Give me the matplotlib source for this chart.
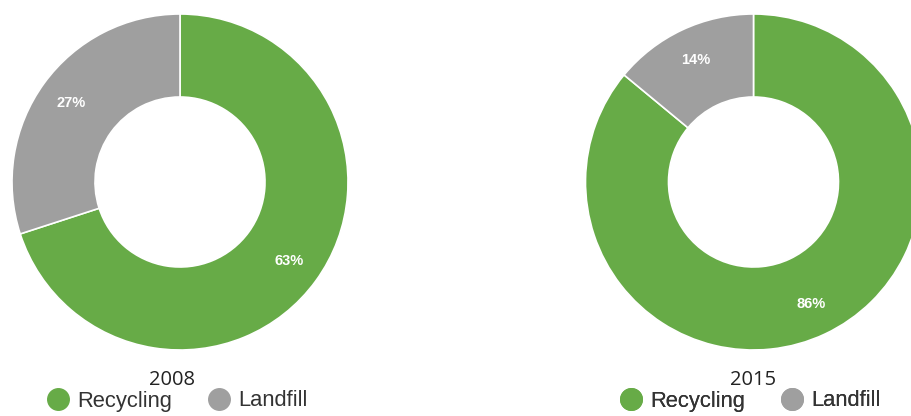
import matplotlib
matplotlib.use("Agg")
import matplotlib.pyplot as plt
from matplotlib.lines import Line2D

# ---- data ----
categories = ["Recycling", "Landfill"]
years = ["2008", "2015"]
values_2008 = [63, 27]
values_2015 = [86, 14]
colors = ["#67ab47", "#9f9f9f"]

W, H = 912, 416
fig = plt.figure(figsize=(W / 100, H / 100), dpi=100)
ax = fig.add_axes([0, 0, 1, 1])

panels = [
    (values_2008, (180, H - 182), 172, (47, H - 401)),
    (values_2015, (753.5, H - 182), 753.5, (620, H - 401)),
]

R = 168
inner = 85

for (vals, center, year_x, leg_xy), year in zip(panels, years):
    total = sum(vals)
    wedges, texts, autotexts = ax.pie(
        vals, colors=colors, startangle=90, counterclock=False,
        center=center, radius=R,
        wedgeprops=dict(width=R - inner, edgecolor="white", linewidth=1.2),
        autopct=lambda p, t=total: f"{p * t / 100:.0f}%",
        pctdistance=135 / R,
        textprops=dict(color="white", fontsize=10.5, fontweight="bold",
                       family=["Liberation Sans", "DejaVu Sans"]),
    )
    ax.text(year_x, H - 380, year, ha="center", va="center", fontsize=14.5,
            color="#222222", family=["Open Sans", "DejaVu Sans"])
    handles = [Line2D([], [], marker="o", linestyle="none", markersize=15.5,
                      markerfacecolor=c, markeredgecolor=c) for c in colors]
    leg = ax.legend(handles, categories, loc="center left",
                    bbox_to_anchor=leg_xy, bbox_transform=ax.transData,
                    ncol=2, frameon=False, borderpad=0, borderaxespad=0,
                    handlelength=1.0, handletextpad=0.36, columnspacing=1.65,
                    prop=dict(family=["Liberation Sans", "DejaVu Sans"], size=15.8))
    for t in leg.get_texts():
        t.set_color("#333333")
    ax.add_artist(leg)

ax.set_xlim(0, W)
ax.set_ylim(0, H)
ax.set_aspect("equal")
ax.axis("off")

fig.savefig("out.png", dpi=100, facecolor="white")
